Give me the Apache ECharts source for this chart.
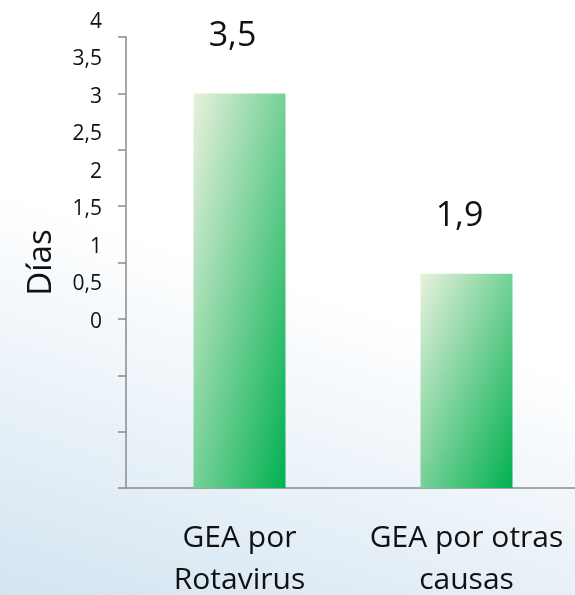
<!DOCTYPE html>
<html>
<head>
<meta charset="utf-8">
<script src="https://cdn.jsdelivr.net/npm/echarts@6/dist/echarts.min.js"></script>
<style>
  html, body { margin: 0; padding: 0; }
  #chart {
    width: 575px; height: 595px;
    background: linear-gradient(198deg, #ffffff 48%, #d3e4f1 100%);
  }
</style>
</head>
<body>
<div id="chart"></div>
<script>
// Duración media (días) por tipo de gastroenteritis aguda
const categories = ['GEA por\nRotavirus', 'GEA por otras\ncausas'];
const diasValues = [3.5, 1.9];
const yTickLabels = ['0', '0,5', '1', '1,5', '2', '2,5', '3', '3,5', '4'];

const FONT = '"Open Sans", "Liberation Sans", sans-serif';
const AXIS_GRAY = '#8a8a8a';

// diagonal fill from pale top-left to deep green bottom-right, per bar size
function barFill(x2, y2) {
  return new echarts.graphic.LinearGradient(0, 0, x2, y2, [
    { offset: 0, color: '#e9f1dd' },
    { offset: 1, color: '#00b050' }
  ]);
}
const fills = [barFill(1.9, 0.102), barFill(1.69, 0.307)];

const chart = echarts.init(document.getElementById('chart'), null, { renderer: 'canvas' });

chart.setOption({
  backgroundColor: 'transparent',
  animation: false,
  textStyle: { fontFamily: FONT },
  grid: [
    { left: 126, top: 37, right: -5, bottom: 107, outerBoundsMode: 'none' },
    { left: 126, top: 22, width: 10, height: 300, outerBoundsMode: 'none' }
  ],
  xAxis: [
    {
      type: 'category',
      gridIndex: 0,
      data: categories,
      axisLine: { lineStyle: { color: AXIS_GRAY, width: 1.5 } },
      axisTick: { length: 16, lineStyle: { color: AXIS_GRAY, width: 1.5 } },
      axisLabel: {
        interval: 0,
        margin: 29,
        fontSize: 30,
        lineHeight: 42,
        color: '#111',
        fontFamily: FONT
      }
    },
    { type: 'value', gridIndex: 1, show: false }
  ],
  yAxis: [
    {
      type: 'value',
      gridIndex: 0,
      min: 0,
      max: 4,
      interval: 0.5,
      name: 'Días',
      nameLocation: 'middle',
      nameGap: 68,
      nameTextStyle: { fontSize: 33, color: '#111', fontFamily: FONT },
      axisLine: { show: true, lineStyle: { color: AXIS_GRAY, width: 1.5 } },
      axisTick: { show: true, length: 8, lineStyle: { color: AXIS_GRAY, width: 1.5 } },
      axisLabel: { show: false },
      splitLine: { show: false }
    },
    {
      type: 'category',
      gridIndex: 1,
      data: yTickLabels,
      boundaryGap: false,
      axisLine: { show: false },
      axisTick: { show: false },
      splitLine: { show: false },
      axisLabel: { interval: 0, margin: 24, fontSize: 21, color: '#111', fontFamily: FONT }
    }
  ],
  series: [
    {
      type: 'bar',
      xAxisIndex: 0,
      yAxisIndex: 0,
      barWidth: 92,
      data: diasValues.map((v, i) => ({ value: v, itemStyle: { color: fills[i] } })),
      label: {
        show: true,
        position: 'top',
        distance: 40,
        offset: [-7, 0],
        fontSize: 34,
        color: '#111',
        fontFamily: FONT,
        formatter: p => String(p.value).replace('.', ',')
      }
    }
  ]
});
</script>
</body>
</html>
